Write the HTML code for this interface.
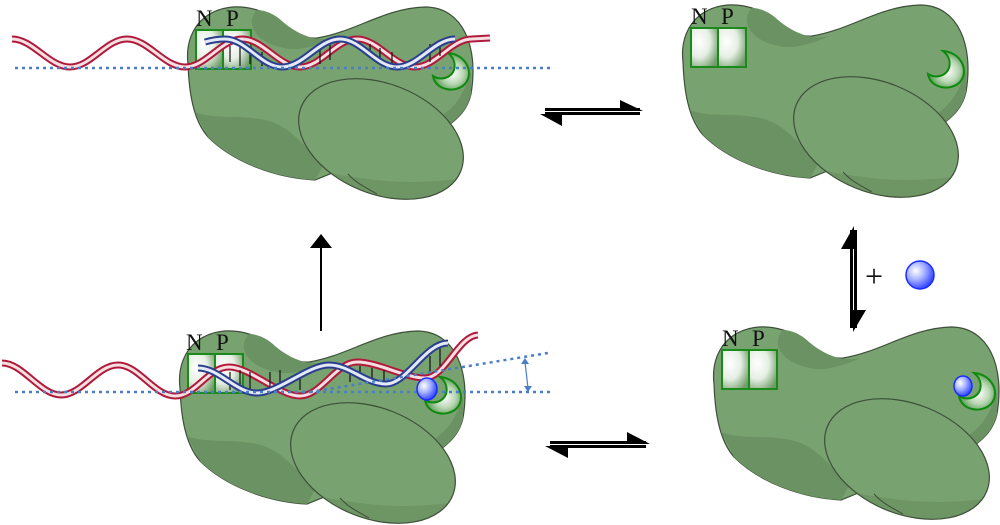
<!DOCTYPE html>
<html><head><meta charset="utf-8">
<style>
html,body{margin:0;padding:0;background:#fff;width:1000px;height:525px;overflow:hidden;}
svg{display:block;}
text{font-family:"Liberation Serif",serif;font-size:23px;fill:#111;}
</style></head>
<body>
<svg width="1000" height="525" viewBox="0 0 1000 525" xmlns="http://www.w3.org/2000/svg">
<defs>
<radialGradient id="box" cx="0.3" cy="0.35" r="0.8">
<stop offset="0" stop-color="#ffffff"/><stop offset="0.5" stop-color="#e6efe4"/><stop offset="1" stop-color="#6f9c68"/>
</radialGradient>
<radialGradient id="cres" cx="0.55" cy="0.55" r="0.6">
<stop offset="0" stop-color="#ffffff"/><stop offset="0.5" stop-color="#b8d6b3"/><stop offset="1" stop-color="#3e8a38"/>
</radialGradient>
<radialGradient id="ball" cx="0.35" cy="0.35" r="0.7">
<stop offset="0" stop-color="#ffffff"/><stop offset="0.45" stop-color="#a8b4ff"/><stop offset="1" stop-color="#2a3cff"/>
</radialGradient>
<clipPath id="lobeclip"><ellipse cx="876" cy="137" rx="86" ry="55" transform="rotate(22 876 137)"/></clipPath>
<g id="prot">
<path d="M683 62 C678 20 712 -4 752 8 C778 16 788 38 812 36 C850 30 880 6 920 5 C958 5 974 45 966 92 C962 110 950 118 943 124 L810 178 C770 176 728 160 703 135 C688 118 684 90 683 62 Z" fill="#78a26f" stroke="#3e4f3a" stroke-width="1.2"/>
<path d="M752 8 C740 20 748 42 785 47 C800 48 815 42 830 36 C812 40 795 34 778 20 C770 12 760 8 752 8 Z" fill="#6b9262"/>
<path d="M690 110 C710 118 730 112 760 118 C790 125 800 150 820 160 L810 178 C770 176 728 160 703 135 Z" fill="#6b9262"/>
<path d="M966 92 C962 110 950 118 943 124 L935 115 C950 105 958 95 966 70 Z" fill="#6b9262"/>
<ellipse cx="876" cy="137" rx="86" ry="55" transform="rotate(22 876 137)" fill="#78a26f"/>
<path clip-path="url(#lobeclip)" d="M790 140 C812 160 818 172 842 174 C870 178 900 184 960 176 L960 210 L790 210 Z" fill="#6b9262" opacity="0.8"/>
<ellipse cx="876" cy="137" rx="86" ry="55" transform="rotate(22 876 137)" fill="none" stroke="#3e4f3a" stroke-width="1.2"/>
<path d="M843 172 C852 182 862 186 872 192" fill="none" stroke="#3e4f3a" stroke-width="1"/>
<rect x="691" y="28" width="27" height="39" fill="url(#box)" stroke="#1a8a1a" stroke-width="2"/>
<rect x="718" y="28" width="28" height="39" fill="url(#box)" stroke="#1a8a1a" stroke-width="2"/>
<path d="M943 51 C960 52 970 70 960 82 C950 92 930 88 928 74 C936 79 946 76 949 68 C951 61 948 55 943 51 Z" fill="url(#cres)" stroke="#0d8a0d" stroke-width="2"/>
</g>
<g id="np">
<text x="691" y="24">N</text><text x="721" y="24">P</text>
</g>
</defs>

<use href="#prot" transform="translate(-495,2)"/>
<use href="#prot"/>
<use href="#prot" transform="translate(-503,326)"/>
<use href="#prot" transform="translate(31,322)"/>

<g fill="none">
<path d="M12 39 C33 39 49 67 70 67 S106 39 127 39 S164 67 185 67 S221 39 242 39 S279 67 300 67 S336 39 357 39 S394 67 415 67 S451 39 472 39 L490 38" stroke="#b01a3a" stroke-width="7"/>
<path d="M12 39 C33 39 49 67 70 67 S106 39 127 39 S164 67 185 67 S221 39 242 39 S279 67 300 67 S336 39 357 39 S394 67 415 67 S451 39 472 39 L490 38" stroke="#f6dfe2" stroke-width="3"/>
<g stroke="#111" stroke-width="1.2">
<path d="M230 46V62M240 44V66M250 46V64M262 52V66M320 48V64M330 44V60M370 44V58M380 48V64M392 52V66M430 44V62M440 42V56"/>
</g>
<path d="M205 42 C212 40 218 39 225 39 C246 39 261 67 282 67 S319 39 340 39 S376 67 397 67 S434 39 455 39" stroke="#2a3f8c" stroke-width="7"/>
<path d="M205 42 C212 40 218 39 225 39 C246 39 261 67 282 67 S319 39 340 39 S376 67 397 67 S434 39 455 39" stroke="#e4e9f7" stroke-width="3"/>
<line x1="15" y1="68" x2="553" y2="68" stroke="#4a7fc8" stroke-width="2.5" stroke-dasharray="3,4"/>
</g>

<g fill="none">
<path d="M2 363 C23 363 40 395 61 395 S97 365 118 365 S154 396 175 396 S208 367 229 367 S279 396 300 396 S336 362 357 362 S405 378 425 378 S458 336 478 335" stroke="#b01a3a" stroke-width="7"/>
<path d="M2 363 C23 363 40 395 61 395 S97 365 118 365 S154 396 175 396 S208 367 229 367 S279 396 300 396 S336 362 357 362 S405 378 425 378 S458 336 478 335" stroke="#f6dfe2" stroke-width="3"/>
<g stroke="#111" stroke-width="1.2">
<path d="M230 372V390M240 370V392M250 372V392M270 372V388M280 370V386M300 374V390M350 368V382M360 366V380M372 368V384M384 370V384M430 356V372M440 348V366"/>
</g>
<path d="M198 368 C219 368 236 393 257 393 S308 365 329 365 S365 384 386 384 S425 343 448 343" stroke="#2a3f8c" stroke-width="7"/>
<path d="M198 368 C219 368 236 393 257 393 S308 365 329 365 S365 384 386 384 S425 343 448 343" stroke="#e4e9f7" stroke-width="3"/>
<line x1="15" y1="392" x2="553" y2="392" stroke="#4a7fc8" stroke-width="2.5" stroke-dasharray="3,4"/>
<line x1="310" y1="392" x2="548" y2="353" stroke="#4a7fc8" stroke-width="2.5" stroke-dasharray="3,4"/>
<line x1="525" y1="362" x2="528" y2="388" stroke="#4a7fc8" stroke-width="1.2"/>
<path d="M521 364 L525 358 L529 364 Z M524 386 L528 392 L532 386 Z" fill="#4a7fc8"/>
</g>

<ellipse cx="427" cy="389" rx="10" ry="11" fill="url(#ball)" stroke="#1a2cff" stroke-width="1.5"/>
<ellipse cx="963" cy="386" rx="9" ry="10" fill="url(#ball)" stroke="#1a2cff" stroke-width="1.5"/>

<use href="#np" transform="translate(-495,2)"/>
<use href="#np"/>
<use href="#np" transform="translate(-505,326)"/>
<use href="#np" transform="translate(31,322)"/>

<g fill="#000">
<rect x="545" y="108" width="95" height="3"/>
<rect x="545" y="112" width="95" height="3"/>
<path d="M620 100 L643 111 L620 111 Z"/>
<path d="M540 114 L562 114 L562 126 Z"/>
<rect x="550" y="441" width="96" height="3"/>
<rect x="550" y="445" width="96" height="3"/>
<path d="M627 432 L650 444 L627 444 Z"/>
<path d="M545 446 L568 446 L568 458 Z"/>
<rect x="850" y="230" width="3" height="98"/>
<rect x="854" y="230" width="3" height="98"/>
<path d="M854 226 L854 249 L841 249 Z"/>
<path d="M853 332 L853 310 L866 310 Z"/>
<rect x="320" y="246" width="2" height="85"/>
<path d="M321 234 L332 248 L310 248 Z"/>
</g>
<text x="865" y="287" style="font-size:32px">+</text>
<circle cx="920" cy="275" r="14" fill="url(#ball)" stroke="#1a2cff" stroke-width="1.5"/>
</svg>
</body></html>
